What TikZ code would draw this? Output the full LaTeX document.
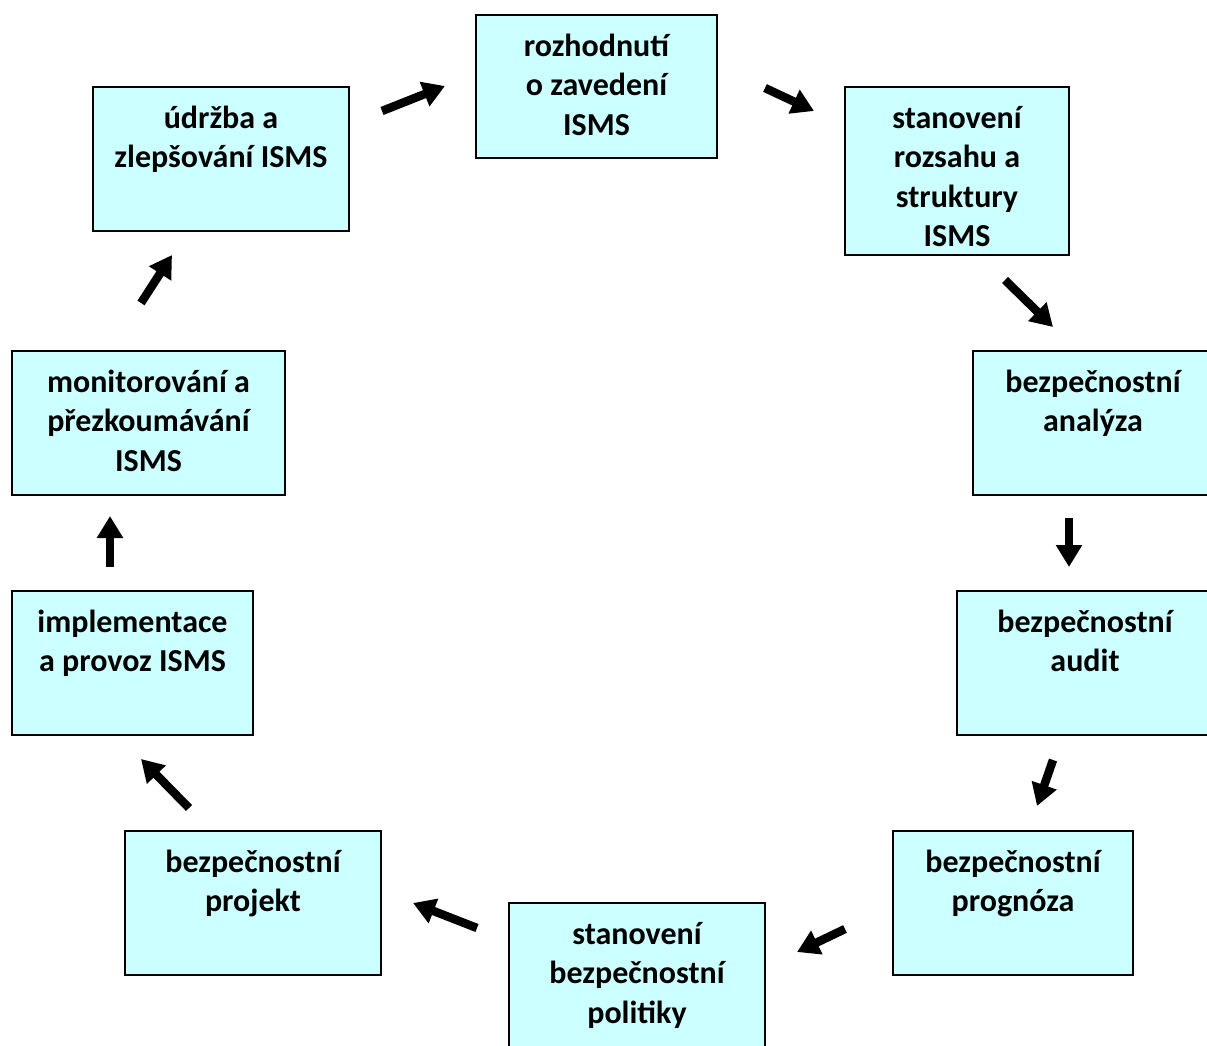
\documentclass[tikz,border=0pt]{standalone}
\usepackage{fontspec}
\setmainfont{Carlito}
\usetikzlibrary{arrows.meta}
\definecolor{boxfill}{HTML}{CCFFFF}
\begin{document}
\begin{tikzpicture}[x=1pt,y=-1pt,
  stagebox/.style={draw=black, fill=boxfill, line width=2.5pt, inner sep=0pt, rectangle},
  stagetext/.style={anchor=north, inner sep=0pt, align=center,
    font=\fontsize{32}{39.5}\selectfont\bfseries, yshift=-14.5pt},
  flow/.style={line width=8.5pt, -{Triangle[length=22pt,width=25pt]}}]
\useasboundingbox (0,0) rectangle (1207,1046);
\begin{scope}
\clip (0,0) rectangle (1207,1046);
% stage boxes
\node[stagebox, minimum width=241pt, minimum height=143pt] (b1) at (596.5,86.5) {};
\node[stagebox, minimum width=224pt, minimum height=168pt] (b2) at (957,171) {};
\node[stagebox, minimum width=244pt, minimum height=144pt] (b3) at (1095,423) {};
\node[stagebox, minimum width=256pt, minimum height=144pt] (b4) at (1085,663) {};
\node[stagebox, minimum width=240pt, minimum height=144pt] (b5) at (1013,903) {};
\node[stagebox, minimum width=256pt, minimum height=144pt] (b6) at (637,975) {};
\node[stagebox, minimum width=256pt, minimum height=144pt] (b7) at (253,903) {};
\node[stagebox, minimum width=241pt, minimum height=144pt] (b8) at (132.5,663) {};
\node[stagebox, minimum width=273pt, minimum height=144pt] (b9) at (148.5,423) {};
\node[stagebox, minimum width=256pt, minimum height=144pt] (b10) at (221,159) {};
\end{scope}
% stage labels
\node[stagetext] (t1) at (b1.north) {\strut rozhodnutí\\o zavedení\\ISMS};
\node[stagetext] (t2) at (b2.north) {\strut stanovení\\rozsahu a\\struktury\\ISMS};
\node[stagetext] (t3) at ([xshift=-2pt]b3.north) {\strut bezpečnostní\\analýza};
\node[stagetext] (t4) at (b4.north) {\strut bezpečnostní\\audit};
\node[stagetext] (t5) at (b5.north) {\strut bezpečnostní\\prognóza};
\node[stagetext] (t6) at (b6.north) {\strut stanovení\\bezpečnostní\\politiky};
\node[stagetext] (t7) at (b7.north) {\strut bezpečnostní\\projekt};
\node[stagetext] (t8) at (b8.north) {\strut implementace\\a provoz ISMS};
\node[stagetext] (t9) at (b9.north) {\strut monitorování a\\přezkoumávání\\ISMS};
\node[stagetext] (t10) at (b10.north) {\strut údržba a\\zlepšování ISMS};
% arrow end points between the boxes
\coordinate (a1s) at (382,111);  \coordinate (a1e) at (445,86);
\coordinate (a2s) at (765,88);   \coordinate (a2e) at (814,111);
\coordinate (a3s) at (1005,280); \coordinate (a3e) at (1053,327);
\coordinate (a4s) at (1069,518); \coordinate (a4e) at (1069,567);
\coordinate (a5s) at (1053,760); \coordinate (a5e) at (1037,806);
\coordinate (a6s) at (845,929);  \coordinate (a6e) at (797,952);
\coordinate (a7s) at (477,928);  \coordinate (a7e) at (413,903);
\coordinate (a8s) at (189,808);  \coordinate (a8e) at (141,759);
\coordinate (a9s) at (110,567);  \coordinate (a9e) at (110,516);
\coordinate (a10s) at (141,303); \coordinate (a10e) at (172,255);
\foreach \i in {1,...,10} \draw[flow] (a\i s) -- (a\i e);
\end{tikzpicture}
\end{document}
